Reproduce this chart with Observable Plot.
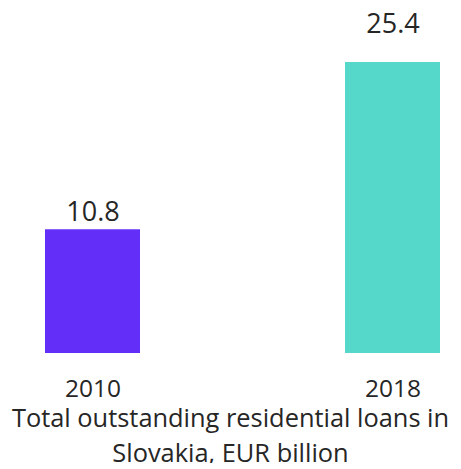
<!DOCTYPE html>
<html>
<head>
<meta charset="utf-8">
<script src="https://cdn.jsdelivr.net/npm/d3@7"></script>
<script src="https://cdn.jsdelivr.net/npm/@observablehq/plot@0.6"></script>
<style>
  html, body { margin: 0; padding: 0; background: #fff; }
  #chart { width: 461px; }
  svg { display: block; }
  .caption { font-family: "Open Sans", sans-serif; font-size: 25.4px; line-height: 22px; color: #262626; text-align: center; width: 461px; margin-top: 2px; }
  .caption div + div { margin-top: 13px; }
</style>
</head>
<body>
<div id="chart"></div>
<script>
const years = ["2010", "2018"];
const values = [10.8, 25.4];
const colors = ["#632ff8", "#55d7c9"];
const caption = ["Total outstanding residential loans in", "Slovakia, EUR billion"];

const data = years.map((y, i) => ({year: y, value: values[i], color: colors[i]}));

const plot = Plot.plot({
  width: 461,
  height: 404,
  marginLeft: 44,
  marginRight: 21,
  marginTop: 62,
  marginBottom: 51,
  style: {fontFamily: "Open Sans, sans-serif", color: "#262626", background: "#fff"},
  x: {domain: years, paddingInner: 0.684, paddingOuter: 0, label: null},
  y: {domain: [0, d3.max(values)], axis: null},
  marks: [
    Plot.barY(data, {x: "year", y: "value", fill: "color"}),
    Plot.text(data.filter(d => d.year === years[0]), {x: "year", y: "value", text: d => d.value.toFixed(1), dy: -9, lineAnchor: "bottom", fontSize: 27, fill: "#262626"}),
    Plot.text(data.filter(d => d.year === years[1]), {x: "year", y: "value", text: d => d.value.toFixed(1), dy: -30, lineAnchor: "bottom", fontSize: 27, fill: "#262626"}),
    Plot.axisX({tickSize: 0, tickPadding: 26, fontSize: 24.5, label: null, color: "#262626"})
  ]
});
document.getElementById("chart").appendChild(plot);
const cap = document.createElement("div");
cap.className = "caption";
cap.innerHTML = caption.map(s => `<div>${s}</div>`).join("");
document.getElementById("chart").appendChild(cap);
</script>
</body>
</html>
